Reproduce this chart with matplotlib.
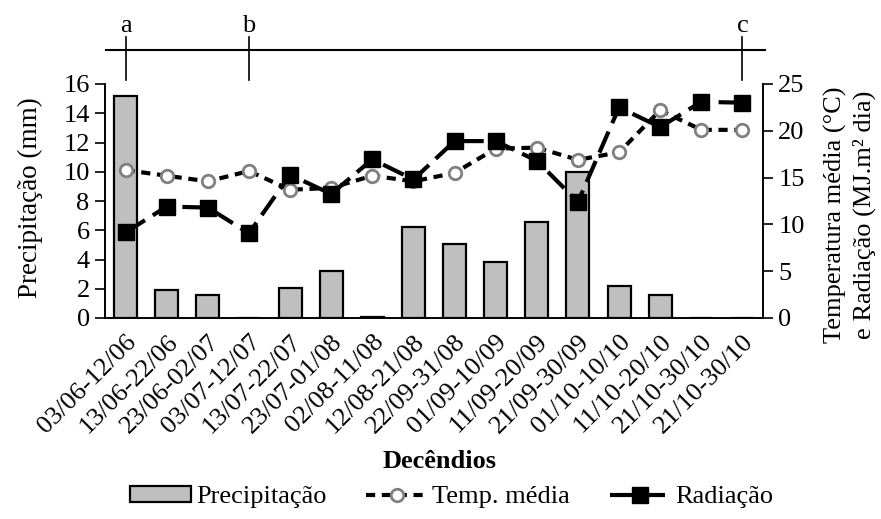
import numpy as np
import matplotlib.pyplot as plt
from matplotlib.lines import Line2D
from matplotlib.patches import Patch

plt.rcParams['font.family'] = ['Liberation Serif', 'DejaVu Serif']
plt.rcParams['font.size'] = 19

# Decêndios (10-day periods)
decendios = ["03/06-12/06", "13/06-22/06", "23/06-02/07", "03/07-12/07",
             "13/07-22/07", "23/07-01/08", "02/08-11/08", "12/08-21/08",
             "22/09-31/08", "01/09-10/09", "11/09-20/09", "21/09-30/09",
             "01/10-10/10", "11/10-20/10", "21/10-30/10", "21/10-30/10"]

# precipitation (mm), left axis
precip = [15.2, 1.9, 1.55, 0.0, 2.05, 3.2, 0.1, 6.25,
          5.05, 3.85, 6.55, 9.95, 2.2, 1.55, 0.0, 0.0]

# mean temperature (°C), right axis
temp = [15.8, 15.2, 14.6, 15.7, 13.7, 13.9, 15.2, 14.6,
        15.5, 18.1, 18.2, 16.9, 17.7, 22.2, 20.1, 20.1]

# radiation (MJ.m2 dia), right axis
radiacao = [9.15, 11.9, 11.8, 9.05, 15.3, 13.25, 16.95, 14.8,
            18.9, 18.9, 16.8, 12.4, 22.5, 20.4, 23.1, 23.0]

# phase marks on top
fases = ["a", "b", "c"]
fase_pos = [0, 3, 15]

x = np.arange(len(decendios))

fig = plt.figure(figsize=(8.81, 5.19), dpi=100)
ax = fig.add_axes([105 / 881, 1 - 318 / 519, (763 - 105) / 881, (318 - 84) / 519])
ax2 = ax.twinx()

ax.bar(x, precip, width=0.56, color='#bfbfbf', edgecolor='black', linewidth=1.6, zorder=2)

temp_style = dict(color='black', lw=3, dashes=(2.2, 1.6), marker='o', ms=9,
                  mfc='white', mec='#808080', mew=2)
rad_style = dict(color='black', lw=3, dashes=(5.5, 2.2), marker='s', ms=11,
                 mfc='black', mec='black')
ax2.plot(x, temp, zorder=3, **temp_style)
ax2.plot(x, radiacao, zorder=4, **rad_style)

ax.set_xlim(-0.5, len(x) - 0.5)
ax.set_ylim(0, 16)
ax.set_yticks(range(0, 17, 2))
ax2.set_ylim(0, 25)
ax2.set_yticks(range(0, 26, 5))

ax.set_xticks(x)
ax.set_xticklabels(decendios, rotation=45, ha='right', rotation_mode='anchor')
ax.tick_params(axis='x', length=0, pad=9)
ax.tick_params(axis='y', length=7, width=1.2, pad=4)
ax2.tick_params(axis='y', length=7, width=1.2, pad=4)

for a in (ax, ax2):
    a.spines['top'].set_visible(False)
    for s in ('left', 'right', 'bottom'):
        a.spines[s].set_linewidth(1.2)

# axis titles
fig.text(30 / 881, 1 - 198 / 519, "Precipitação (mm)", rotation=90,
         ha='center', va='center', fontsize=19.5)
fig.text(850 / 881, 1 - 215 / 519, "Temperatura média (°C)\ne Radiação (MJ.m² dia)",
         rotation=90, ha='center', va='center', linespacing=1.35, multialignment='center')
fig.text(440 / 881, 1 - 462 / 519, "Decêndios", fontweight='bold',
         ha='center', va='center')

# phase marks a, b, c above the plot
trans = ax.get_xaxis_transform()
ax.plot([-0.48, 15.55], [1.145, 1.145], transform=trans, color='black', lw=1.5, clip_on=False)
for lab, p in zip(fases, fase_pos):
    ax.plot([p, p], [1.017, 1.20], transform=trans, color='black', lw=1.2, clip_on=False)
    ax.text(p, 1.25, lab, transform=trans, ha='center', va='center')

handles = [Patch(facecolor='#bfbfbf', edgecolor='black', linewidth=1.6),
           Line2D([], [], **temp_style),
           Line2D([], [], **rad_style)]
fig.legend(handles, ["Precipitação", "Temp. média", "Radiação"], loc='center',
           bbox_to_anchor=(452 / 881, 1 - 497 / 519), ncol=3, frameon=False,
           handlelength=2.3, handleheight=0.55, handletextpad=0.2, columnspacing=1.5)

plt.savefig("out.png", dpi=100)
